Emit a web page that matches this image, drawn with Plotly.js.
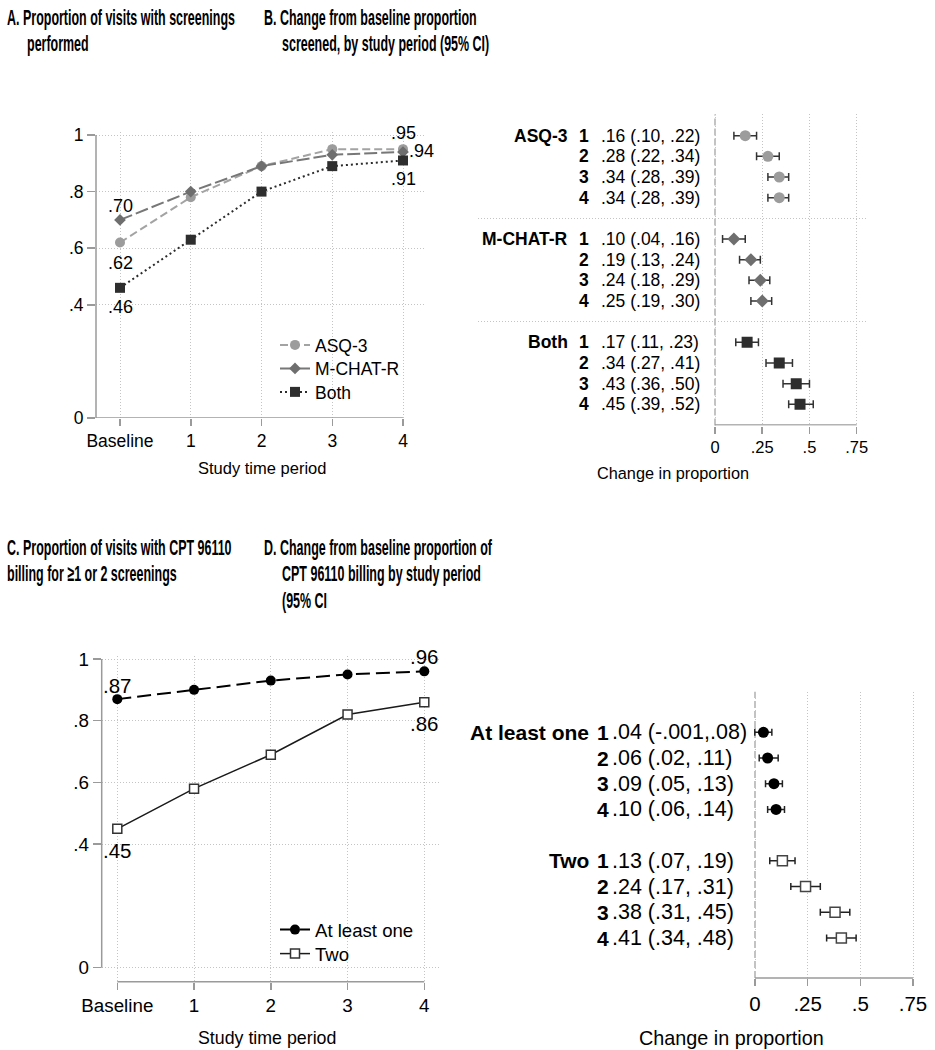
<!DOCTYPE html>
<html><head><meta charset="utf-8">
<script src="https://cdn.plot.ly/plotly-3.0.1.min.js"></script>
<style>html,body{margin:0;padding:0;background:#fff}#chart{width:935px;height:1050px}</style>
</head><body><div id="chart"></div>
<script>
// ---------------- DATA ----------------
const periods = ["Baseline", "1", "2", "3", "4"];
const periodX = [0, 1, 2, 3, 4];

// Panel A: proportion of visits with screenings performed
const asq3   = [0.62, 0.78, 0.89, 0.95, 0.95];
const mchatr = [0.70, 0.80, 0.89, 0.93, 0.94];
const both   = [0.46, 0.63, 0.80, 0.89, 0.91];

const yTicksAC    = [0, 0.4, 0.6, 0.8, 1];
const yTickTextAC = ["0", ".4", ".6", ".8", "1"];

// Panel B: change from baseline proportion screened (95% CI)
const groupsB = ["ASQ-3", "M-CHAT-R", "Both"];
const studyPeriods = [1, 2, 3, 4];
const asqEst   = [0.16, 0.28, 0.34, 0.34];
const asqLo    = [0.10, 0.22, 0.28, 0.28];
const asqHi    = [0.22, 0.34, 0.39, 0.39];
const mchatEst = [0.10, 0.19, 0.24, 0.25];
const mchatLo  = [0.04, 0.13, 0.18, 0.19];
const mchatHi  = [0.16, 0.24, 0.29, 0.30];
const bothEst  = [0.17, 0.34, 0.43, 0.45];
const bothLo   = [0.11, 0.27, 0.36, 0.39];
const bothHi   = [0.23, 0.41, 0.50, 0.52];

// Panel C: proportion of visits with CPT 96110 billing
const atLeastOne = [0.87, 0.90, 0.93, 0.95, 0.96];
const two        = [0.45, 0.58, 0.69, 0.82, 0.86];

// Panel D: change from baseline proportion of CPT 96110 billing (95% CI)
const groupsD = ["At least one", "Two"];
const oneEst = [0.04, 0.06, 0.09, 0.10];
const oneLo  = [-0.001, 0.02, 0.05, 0.06];
const oneHi  = [0.08, 0.11, 0.13, 0.14];
const twoEst = [0.13, 0.24, 0.38, 0.41];
const twoLo  = [0.07, 0.17, 0.31, 0.34];
const twoHi  = [0.19, 0.31, 0.45, 0.48];

const xTicksBD    = [0, 0.25, 0.5, 0.75];
const xTickTextBD = ["0", ".25", ".5", ".75"];

// ---------------- HELPERS ----------------
const W = 935, H = 1050;
const FONT = "Liberation Sans, Arial, Helvetica, sans-serif";
const xd = (l, r) => [l / W, r / W];
const yd = (t, b) => [1 - b / H, 1 - t / H];
function rng(p0, p1, v0, v1, a, b) { const k = (v1 - v0) / (p1 - p0); return [v0 + (a - p0) * k, v0 + (b - p0) * k]; }
function fmt(v) {
  const dec = Math.abs(v * 100 - Math.round(v * 100)) > 1e-6 ? 3 : 2;
  return v.toFixed(dec).replace(/^(-?)0\./, "$1.");
}
function ciText(e, l, h) { const ls = fmt(l); return fmt(e) + " (" + ls + (ls.length > 4 ? "," : ", ") + fmt(h) + ")"; }

const GRID = { showgrid: true, gridcolor: "#c4c4c4", griddash: "1px,2px", gridwidth: 1, zeroline: false, showline: false };
const TICK = { ticks: "outside", tickcolor: "#9a9a9a", tickwidth: 1.5, ticklen: 7 };
const AXC = "#9a9a9a";

// ---------------- TRACES ----------------
const data = [];
// A
data.push({ x: periodX, y: asq3, name: "ASQ-3", mode: "lines+markers", xaxis: "x", yaxis: "y", legend: "legend",
  line: { color: "#a3a3a3", dash: "8px,4px", width: 2 }, marker: { symbol: "circle", size: 10, color: "#9c9c9c" } });
data.push({ x: periodX, y: mchatr, name: "M-CHAT-R", mode: "lines+markers", xaxis: "x", yaxis: "y", legend: "legend",
  line: { color: "#777777", dash: "13px,4px", width: 2 }, marker: { symbol: "diamond", size: 9, color: "#6e6e6e" } });
data.push({ x: periodX, y: both, name: "Both", mode: "lines+markers", xaxis: "x", yaxis: "y", legend: "legend",
  line: { color: "#2b2b2b", dash: "2px,3px", width: 2 }, marker: { symbol: "square", size: 10, color: "#2e2e2e" } });

// B
const bSets = [[asqEst, asqLo, asqHi], [mchatEst, mchatLo, mchatHi], [bothEst, bothLo, bothHi]];
const bMarkers = [{ symbol: "circle", size: 11, color: "#9c9c9c" }, { symbol: "diamond", size: 10, color: "#6e6e6e" }, { symbol: "square", size: 11, color: "#2e2e2e" }];
bSets.forEach((s, g) => {
  data.push({ x: s[0], y: studyPeriods.map(p => g * 5 + p), mode: "markers", xaxis: "x2", yaxis: "y2", showlegend: false,
    marker: bMarkers[g],
    error_x: { type: "data", symmetric: false, array: s[2].map((h, i) => h - s[0][i]), arrayminus: s[1].map((l, i) => s[0][i] - l),
      color: "#333", thickness: 1.5, width: 4 } });
});

// C
data.push({ x: periodX, y: atLeastOne, name: "At least one", mode: "lines+markers", xaxis: "x3", yaxis: "y3", legend: "legend2",
  line: { color: "#000", dash: "14px,6px", width: 2 }, marker: { symbol: "circle", size: 10, color: "#000" } });
data.push({ x: periodX, y: two, name: "Two", mode: "lines+markers", xaxis: "x3", yaxis: "y3", legend: "legend2",
  line: { color: "#1a1a1a", width: 1.5 }, marker: { symbol: "square", size: 9, color: "#fff", line: { color: "#333", width: 1.5 } } });

// D
const dSets = [[oneEst, oneLo, oneHi], [twoEst, twoLo, twoHi]];
const dMarkers = [{ symbol: "circle", size: 11, color: "#000" }, { symbol: "square", size: 10, color: "#fff", line: { color: "#444", width: 1.5 } }];
dSets.forEach((s, g) => {
  data.push({ x: s[0], y: studyPeriods.map(p => g * 5 + p), mode: "markers", xaxis: "x4", yaxis: "y4", showlegend: false,
    marker: dMarkers[g],
    error_x: { type: "data", symmetric: false, array: s[2].map((h, i) => h - s[0][i]), arrayminus: s[1].map((l, i) => s[0][i] - l),
      color: "#222", thickness: 1.5, width: 3.5 } });
});

// ---------------- LAYOUT ----------------
const ann = [];
const titleIdx = [];
const TITLE_SIZE = 22, TITLE_SCALE = 0.567;
function title(text, x, y) {
  titleIdx.push(ann.length);
  ann.push({ text, xref: "paper", yref: "paper", x: x / W, y: 1 - y / H, xanchor: "left", yanchor: "middle", showarrow: false,
    font: { family: FONT, size: TITLE_SIZE, weight: "bold", color: "#000" } });
}
title("A. Proportion of visits with screenings", 5, 17);
title("performed", 25, 43);
title("B. Change from baseline proportion", 262, 17);
title("screened, by study period (95% CI)", 280, 43);
title("C. Proportion of visits with CPT 96110", 5, 547);
title("billing for \u22651 or 2 screenings", 5, 573);
title("D. Change from baseline proportion of", 262, 547);
title("CPT 96110 billing by study period", 280, 573);
title("(95% CI", 280, 600);

function ptext(text, x, y, size) {
  ann.push({ text, xref: "paper", yref: "paper", x: x / W, y: 1 - y / H, xanchor: "center", yanchor: "middle", showarrow: false,
    font: { family: FONT, size, color: "#000" } });
}
ptext("Study time period", 262, 468, 16.5);
ptext("Change in proportion", 673, 473, 16.3);
ptext("Study time period", 267, 1038, 17.8);
ptext("Change in proportion", 731, 1038, 19.8);

function vlab(xr, yr, i, v, dy, size, anchor, dx) {
  ann.push({ text: fmt(v), xref: xr, yref: yr, x: periodX[i], y: v, xanchor: anchor || "center", yanchor: "middle",
    xshift: dx || 0, yshift: dy, showarrow: false, font: { family: FONT, size, color: "#000" } });
}
vlab("x", "y", 0, mchatr[0], 14, 18);
vlab("x", "y", 0, asq3[0], -20, 18);
vlab("x", "y", 0, both[0], -19, 18);
vlab("x", "y", 4, asq3[4], 16, 18);
vlab("x", "y", 4, mchatr[4], 1, 18, "left", 4);
vlab("x", "y", 4, both[4], -19, 18);
vlab("x3", "y3", 0, atLeastOne[0], 14, 20.5);
vlab("x3", "y3", 0, two[0], -22, 20.5);
vlab("x3", "y3", 4, atLeastOne[4], 15, 20.5);
vlab("x3", "y3", 4, two[4], -21, 20.5);

// Row text B
bSets.forEach((s, g) => {
  ann.push({ text: groupsB[g], xref: "paper", yref: "y2", x: 570 / W, y: g * 5 + 1, xanchor: "right", yanchor: "middle", showarrow: false,
    font: { family: FONT, size: 17.5, weight: "bold", color: "#000" } });
  studyPeriods.forEach((p, i) => {
    ann.push({ text: String(p), xref: "paper", yref: "y2", x: 584 / W, y: g * 5 + p, xanchor: "center", yanchor: "middle", showarrow: false,
      font: { family: FONT, size: 17.5, weight: "bold", color: "#000" } });
    ann.push({ text: ciText(s[0][i], s[1][i], s[2][i]), xref: "paper", yref: "y2", x: 599 / W, y: g * 5 + p, xanchor: "left", yanchor: "middle", showarrow: false,
      font: { family: FONT, size: 17.5, color: "#000" } });
  });
});
// Row text D
dSets.forEach((s, g) => {
  ann.push({ text: groupsD[g], xref: "paper", yref: "y4", x: 591 / W, y: g * 5 + 1, xanchor: "right", yanchor: "middle", showarrow: false,
    font: { family: FONT, size: 21, weight: "bold", color: "#000" } });
  studyPeriods.forEach((p, i) => {
    ann.push({ text: String(p), xref: "paper", yref: "y4", x: 603 / W, y: g * 5 + p, xanchor: "center", yanchor: "middle", showarrow: false,
      font: { family: FONT, size: 21, weight: "bold", color: "#000" } });
    ann.push({ text: ciText(s[0][i], s[1][i], s[2][i]), xref: "paper", yref: "y4", x: 610 / W, y: g * 5 + p, xanchor: "left", yanchor: "middle", showarrow: false,
      font: { family: FONT, size: 21.5, color: "#000" } });
  });
});

const shapes = [
  // A axis lines
  { type: "line", xref: "x domain", yref: "y", x0: 0, x1: 0, y0: 0, y1: 1, line: { color: AXC, width: 1.5 } },
  { type: "line", xref: "x", yref: "y", x0: rng(120, 403, 0, 4, 96, 96)[0], x1: 4, y0: 0, y1: 0, line: { color: AXC, width: 1.5 } },
  // B
  { type: "line", xref: "x2", yref: "y2 domain", x0: 0, x1: 0, y0: 0, y1: 1, layer: "below", line: { color: "#b0b0b0", width: 1.5, dash: "7px,3px" } },
  { type: "line", xref: "x2", yref: "y2", x0: 0, x1: 0.75, y0: 15, y1: 15, line: { color: AXC, width: 1.5 } },
  // C
  { type: "line", xref: "x3 domain", yref: "y3", x0: 0, x1: 0, y0: 0, y1: 1, line: { color: AXC, width: 1.5 } },
  { type: "line", xref: "x3", yref: "y3 domain", x0: 0, x1: 4, y0: 0, y1: 0, line: { color: AXC, width: 1.5 } },
  // D
  { type: "line", xref: "x4", yref: "y4 domain", x0: 0, x1: 0, y0: 0, y1: 1, layer: "below", line: { color: "#b0b0b0", width: 1.5, dash: "7px,3px" } },
  { type: "line", xref: "x4", yref: "y4 domain", x0: 0, x1: 0.75, y0: 0, y1: 0, line: { color: AXC, width: 1.5 } },
];

const layout = {
  width: W, height: H, margin: { l: 0, r: 0, t: 0, b: 0 }, paper_bgcolor: "#fff", plot_bgcolor: "#fff",
  font: { family: FONT, color: "#000" }, showlegend: true,
  xaxis: Object.assign({}, GRID, TICK, { domain: xd(96, 425), range: rng(120, 403, 0, 4, 96, 425), anchor: "y",
    tickvals: periodX, ticktext: periods, tickfont: { size: 17.5 } }),
  yaxis: Object.assign({}, GRID, TICK, { domain: yd(132, 418), range: rng(418, 135, 0, 1, 418, 132), anchor: "x",
    tickvals: yTicksAC, ticktext: yTickTextAC, tickfont: { size: 17.5 }, ticklen: 8 }),
  xaxis2: Object.assign({}, GRID, TICK, { domain: xd(478, 867), range: rng(715, 856.7, 0, 0.75, 478, 867), anchor: "y2",
    tickvals: xTicksBD, ticktext: xTickTextBD, tickfont: { size: 16.5 } }),
  yaxis2: Object.assign({}, GRID, { domain: yd(114.4, 425.6), range: rng(115, 425, 0, 15, 425.6, 114.4), anchor: "x2",
    tickvals: [0, 5, 10, 15], showticklabels: false, ticks: "" }),
  xaxis3: Object.assign({}, GRID, TICK, { domain: xd(101.7, 440), range: rng(117.3, 424.3, 0, 4, 101.7, 440), anchor: "y3",
    tickvals: periodX, ticktext: periods, tickfont: { size: 18.8 } }),
  yaxis3: Object.assign({}, GRID, TICK, { domain: yd(656, 981.7), range: rng(967.7, 659, 0, 1, 981.7, 656), anchor: "x3",
    tickvals: yTicksAC, ticktext: yTickTextAC, tickfont: { size: 18.8 }, ticklen: 8 }),
  xaxis4: Object.assign({}, GRID, TICK, { domain: xd(470, 925), range: rng(755, 913, 0, 0.75, 470, 925), anchor: "y4",
    tickvals: xTicksBD, ticktext: xTickTextBD, tickfont: { size: 20.5 } }),
  yaxis4: { domain: yd(691.7, 978), range: rng(732.3, 938, 1, 9, 978, 691.7), anchor: "x4",
    showgrid: false, zeroline: false, showline: false, showticklabels: false, ticks: "" },
  legend: { x: 275 / W, y: 1 - 327 / H, xanchor: "left", yanchor: "top", bgcolor: "rgba(0,0,0,0)", font: { family: FONT, size: 17.5 }, tracegroupgap: 0 },
  legend2: { x: 275 / W, y: 1 - 911 / H, xanchor: "left", yanchor: "top", bgcolor: "rgba(0,0,0,0)", font: { family: FONT, size: 18.6 }, tracegroupgap: 0 },
  annotations: ann,
  shapes: shapes,
};

function tightenLegend(gd, cls, step) {
  const items = gd.querySelectorAll("g." + cls + " g.traces");
  let y0 = null;
  items.forEach((el, i) => {
    const m = /translate\(\s*([-\d.e]+)[ ,]+([-\d.e]+)\s*\)/.exec(el.getAttribute("transform") || "");
    if (!m) return;
    const x = parseFloat(m[1]), y = parseFloat(m[2]);
    if (y0 === null) y0 = y;
    el.setAttribute("transform", "translate(" + x + "," + (y0 + i * step) + ")");
  });
}

Plotly.newPlot("chart", data, layout, { staticPlot: true, displayModeBar: false }).then(gd => {
  titleIdx.forEach(i => {
    const t = gd.querySelector('.annotation[data-index="' + i + '"] text.annotation-text');
    if (!t) return;
    const bb = t.getBBox();
    t.setAttribute("transform", "translate(" + bb.x + ",0) scale(" + TITLE_SCALE + ",1) translate(" + (-bb.x) + ",0)");
  });
  tightenLegend(gd, "legend", 23.5);
  tightenLegend(gd, "legend2", 24);
});
</script>
</body></html>
